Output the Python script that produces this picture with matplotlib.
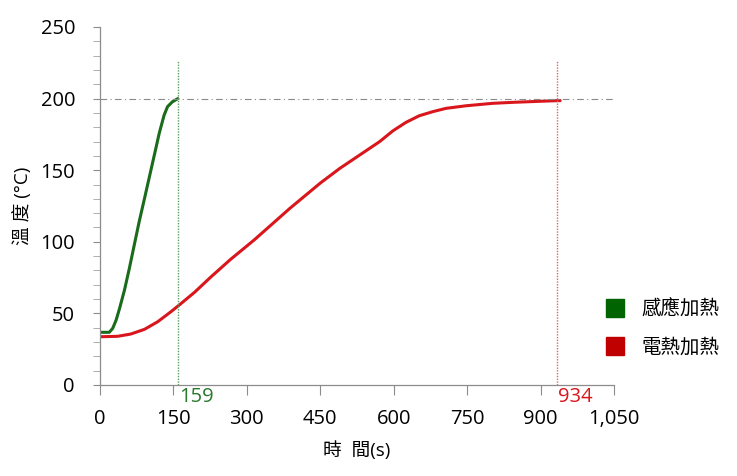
import matplotlib
matplotlib.use("Agg")
import matplotlib.pyplot as plt
from matplotlib.lines import Line2D
from matplotlib.ticker import MultipleLocator, FuncFormatter

plt.rcParams['font.family'] = ['Open Sans', 'Noto Sans CJK TC', 'DejaVu Sans']

# Data
induction_t = [0, 19, 26, 33, 40, 50, 60, 70, 80, 91, 101, 111, 121, 131, 138, 148, 159]
induction_T = [36.8, 36.8, 39.6, 45.4, 53.5, 66.3, 81.5, 97.8, 114, 130.4, 145.5, 160.6,
               175.8, 188.5, 194.4, 197.8, 200]
electric_t = [0, 36, 63, 91, 118, 145, 162, 193, 227, 267, 315, 388, 450, 490, 571, 598,
              625, 652, 680, 707, 748, 802, 844, 912, 940]
electric_T = [33.7, 34, 35.6, 38.9, 44.2, 51.2, 55.9, 64.7, 75.6, 87.8, 101.3, 123.4, 141,
              151.3, 169.9, 177.4, 183.4, 188, 190.9, 193.2, 195, 196.7, 197.4, 198.3, 198.6]
series_names = ['感應加熱', '電熱加熱']
target_temp = 200
finish_times = [159, 934]
xlabel = '時  間(s)'
ylabel = '溫 度 (°C)'

green = '#1a6b1a'
red = '#d9161c'

fig = plt.figure(figsize=(7.37, 4.76), dpi=100)
ax = fig.add_axes([100/737, 91/476, 514/737, 358/476])

ax.plot(induction_t, induction_T, color=green, lw=2.2, solid_capstyle='round',
        solid_joinstyle='round')
ax.plot(electric_t, electric_T, color=red, lw=2.2, solid_capstyle='round',
        solid_joinstyle='round')

ax.plot([0, 1050], [target_temp, target_temp], color='#8a8a8a', lw=0.8, ls=(0, (6, 3, 1, 3)))
ax.plot([finish_times[0]] * 2, [0, 226], color='#5e9e5e', lw=1.0, ls=(0, (1, 1)))
ax.plot([finish_times[1]] * 2, [0, 226], color='#e06464', lw=1.0, ls=(0, (1, 1)))

ax.text(finish_times[0] + 2, -1.5, str(finish_times[0]), color='#2a7a2e', fontsize=14.5,
        ha='left', va='top')
ax.text(finish_times[1] + 2, -1.5, str(finish_times[1]), color='#d9161c', fontsize=14.5,
        ha='left', va='top')

ax.set_xlim(0, 1050)
ax.set_ylim(0, 250)
ax.xaxis.set_major_locator(MultipleLocator(150))
ax.yaxis.set_major_locator(MultipleLocator(50))
ax.yaxis.set_minor_locator(MultipleLocator(10))
ax.xaxis.set_major_formatter(FuncFormatter(lambda v, p: f'{int(v):,}'))

for s in ['top', 'right']:
    ax.spines[s].set_visible(False)
for s in ['left', 'bottom']:
    ax.spines[s].set_color('#8c8c8c')
    ax.spines[s].set_linewidth(0.9)

ax.tick_params(axis='x', which='major', direction='out', length=7, width=0.8,
               color='#8c8c8c', labelsize=14.5, pad=10)
ax.tick_params(axis='y', which='major', direction='out', length=5, width=0.8,
               color='#8c8c8c', labelsize=14.5, pad=13)
ax.tick_params(axis='y', which='minor', direction='out', length=5, width=0.6,
               color='#a0a0a0')

ax.set_xlabel(xlabel, fontsize=13.5, labelpad=9)
ax.set_ylabel(ylabel, fontsize=13.5, labelpad=6)

handles = [Line2D([], [], ls='none', marker='s', markersize=13, color='#006400'),
           Line2D([], [], ls='none', marker='s', markersize=13, color='#c00000')]
fig.legend(handles, series_names, loc='upper left', bbox_to_anchor=(586/737, 1 - 282/476),
           frameon=False, fontsize=14, handletextpad=0.75, labelspacing=1.0,
           handlelength=1.2)

fig.savefig('out.png', dpi=100)
